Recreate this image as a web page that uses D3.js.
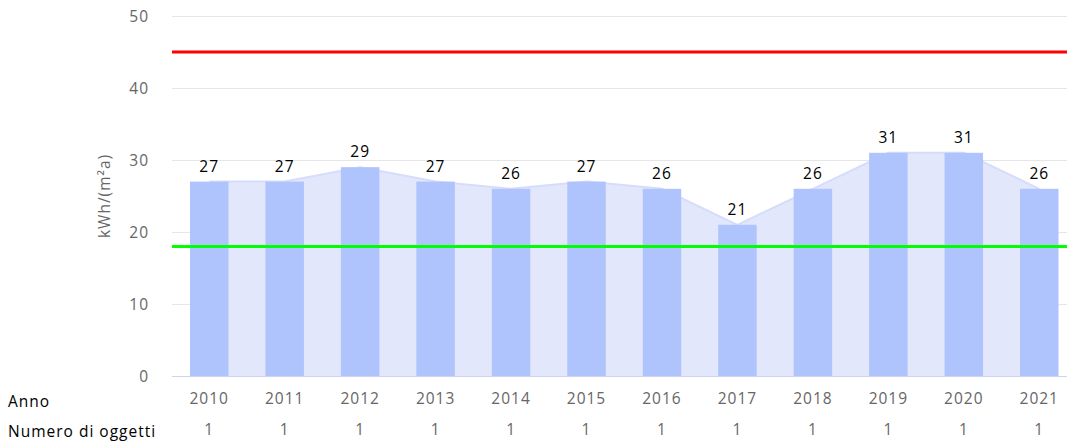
<!DOCTYPE html>
<html><head><meta charset="utf-8">
<script src="https://cdn.jsdelivr.net/npm/d3@7"></script>
<style>body{margin:0;background:#fff}svg{display:block;font-family:"Open Sans",sans-serif;letter-spacing:1px}</style>
</head><body><svg id="c" width="1067" height="441"></svg>
<script>
const years = ["2010","2011","2012","2013","2014","2015","2016","2017","2018","2019","2020","2021"];
const values = [27,27,29,27,26,27,26,21,26,31,31,26];
const counts = [1,1,1,1,1,1,1,1,1,1,1,1];
const yTicks = [0,10,20,30,40,50];
const redLimit = 45;
const greenLimit = 18;
const yTitle = "kWh/(m²a)";
const rowLabels = ["Anno","Numero di oggetti"];

(function(){
const svg = d3.select("#c");
const pL = 172, pR = 1067, pT = 16, pB = 376;
const fs = 15.5;
const x = d3.scaleBand().domain(years).range([171.5, 1077]).paddingInner(0.49).paddingOuter(0.245);
const y = d3.scaleLinear().domain([0,50]).range([pB, pT]);
const cx = d => x(d) + x.bandwidth()/2;

// grid
svg.append("g").selectAll("line").data(yTicks).join("line")
  .attr("x1", pL).attr("x2", pR).attr("y1", d=>y(d)+0.5).attr("y2", d=>y(d)+0.5)
  .attr("stroke", "#e6e6e6").attr("stroke-width", 1);
svg.append("g").selectAll("text").data(yTicks).join("text")
  .attr("x", 149).attr("y", d=>y(d)+5.5).attr("text-anchor","end")
  .attr("font-size", fs).attr("fill", "#666").text(d=>d);

svg.append("text").attr("transform", `translate(110,196) rotate(-90)`)
  .attr("text-anchor","middle").attr("font-size",fs).attr("fill","#666").text(yTitle);

// area
const area = d3.area().x((d,i)=>cx(years[i])).y0(y(0)).y1(d=>y(d));
svg.append("path").datum(values).attr("d", area).attr("fill", "#e2e7fc");
svg.append("path").datum(values).attr("d", d3.line().x((d,i)=>cx(years[i])).y(d=>y(d)))
  .attr("fill","none").attr("stroke","#d5ddfb").attr("stroke-width",2);

// bars
svg.append("g").selectAll("rect").data(values).join("rect")
  .attr("x",(d,i)=>x(years[i])).attr("y", d=>y(d)).attr("width", x.bandwidth())
  .attr("height", d=>y(0)-y(d)).attr("fill","#afc3fc");

// axis line
svg.append("line").attr("x1",pL).attr("x2",pR).attr("y1",pB+0.5).attr("y2",pB+0.5)
  .attr("stroke","#ccd6eb");

// limit lines
svg.append("line").attr("x1",pL).attr("x2",pR).attr("y1",y(redLimit)).attr("y2",y(redLimit))
  .attr("stroke","#ff0000").attr("stroke-width",3);
svg.append("line").attr("x1",pL).attr("x2",pR).attr("y1",y(greenLimit)).attr("y2",y(greenLimit))
  .attr("stroke","#00ff00").attr("stroke-width",3);

// data labels
svg.append("g").selectAll("text").data(values).join("text")
  .attr("x",(d,i)=>cx(years[i])).attr("y", d=>y(d)-10).attr("text-anchor","middle")
  .attr("font-size",fs).attr("fill","#000").text(d=>d);

// x labels
svg.append("g").selectAll("text").data(years).join("text")
  .attr("x", d=>cx(d)).attr("y", 404).attr("text-anchor","middle")
  .attr("font-size",fs).attr("fill","#666").text(d=>d);
svg.append("g").selectAll("text").data(counts).join("text")
  .attr("x", (d,i)=>cx(years[i])).attr("y", 435).attr("text-anchor","middle")
  .attr("font-size",fs).attr("fill","#666").text(d=>d);
svg.append("text").attr("x",8).attr("y",407).attr("font-size",fs).attr("fill","#000").text(rowLabels[0]);
svg.append("text").attr("x",8).attr("y",437).attr("font-size",fs).attr("fill","#000").text(rowLabels[1]);
})();
</script></body></html>
